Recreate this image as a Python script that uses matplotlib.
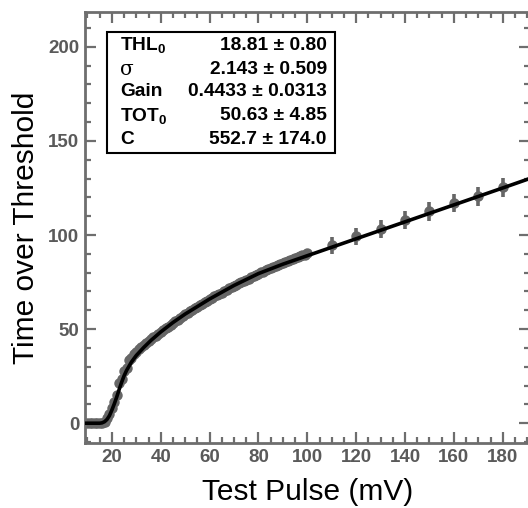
import matplotlib
matplotlib.use("Agg")
import matplotlib.pyplot as plt
from matplotlib.patches import Rectangle
from matplotlib.ticker import MultipleLocator

plt.rcParams['font.family'] = ['Liberation Sans', 'DejaVu Sans']
plt.rcParams['mathtext.fontset'] = 'custom'
plt.rcParams['mathtext.rm'] = 'Liberation Sans'
plt.rcParams['mathtext.bf'] = 'Liberation Sans:bold'

# measured points (test pulse in mV, time over threshold)
pulse = list(range(10, 101)) + [110, 120, 130, 140, 150, 160, 170, 180]
tot = [0.0, 0.0, 0.0, 0.0, 0.0, 0.0, 0.0, 0.8, 2.8, 5.0,
       8.2, 11.5, 15.0, 21.5, 23.5, 27.5, 29.5, 33.5, 34.5, 37.0,
       38.0, 39.5, 40.5, 41.5, 42.5, 43.8, 44.5, 45.6, 46.5, 47.5,
       48.6, 49.5, 50.4, 51.3, 52.2, 53.4, 54.1, 55.0, 56.0, 56.8,
       57.8, 58.6, 59.4, 60.3, 61.1, 61.8, 62.7, 63.5, 64.3, 65.0,
       65.9, 66.5, 67.4, 68.0, 68.8, 69.4, 70.2, 70.9, 71.6, 72.3,
       73.0, 73.6, 74.3, 75.0, 75.6, 76.3, 76.8, 77.5, 78.3, 78.8,
       79.5, 80.1, 80.6, 81.3, 81.8, 82.4, 82.9, 83.5, 84.0, 84.6,
       85.1, 85.5, 86.2, 86.6, 87.1, 87.6, 88.2, 88.6, 89.2, 89.6,
       90.2,
       94.5, 99.3, 103.2, 108.0, 112.5, 117.0, 120.6, 125.4]
tot_err = [0.4] * 7 + [1.0] * 24 + [1.5] * 60 + [4.5, 4.5, 4.6, 4.7, 4.8, 4.9, 5.0, 5.0]

# fitted surrogate curve
fit_x = [9, 12, 15, 16, 17, 18, 19, 20, 21, 22, 23, 24, 25, 26, 28, 30, 33, 36,
         40, 45, 50, 55, 60, 70, 80, 90, 100, 110, 120, 130, 140, 150, 160,
         170, 180, 191]
fit_y = [0.0, 0.0, 0.0, 0.2, 0.8, 2.0, 4.0, 7.0, 10.3, 14.0, 18.0, 21.8, 25.2,
         28.0, 32.5, 36.0, 40.2, 44.0, 48.5, 53.5, 58.0, 62.0, 66.0, 73.2,
         79.5, 84.5, 89.0, 93.5, 98.0, 102.5, 107.0, 111.5, 116.0, 120.5,
         125.0, 130.0]

param_names = [r"$\mathbf{THL_0}$", "σ", "Gain", r"$\mathbf{TOT_0}$", "C"]
param_values = ["18.81 ± 0.80", "2.143 ± 0.509", "0.4433 ± 0.0313",
                "50.63 ± 4.85", "552.7 ± 174.0"]

gray = "#6e6e6e"

fig = plt.figure(figsize=(5.28, 5.08), dpi=100)
ax = fig.add_axes([0.161, 0.128, 0.842, 0.8484])

ax.errorbar(pulse, tot, yerr=tot_err, fmt="o", color="#666666", ms=6.5,
            elinewidth=2.6, capsize=0, zorder=2)
ax.plot(fit_x, fit_y, color="black", lw=2.6, zorder=3)

ax.set_xlim(9, 191)
ax.set_ylim(-10.5, 218.5)
ax.xaxis.set_major_locator(MultipleLocator(20))
ax.xaxis.set_minor_locator(MultipleLocator(5))
ax.yaxis.set_major_locator(MultipleLocator(50))
ax.yaxis.set_minor_locator(MultipleLocator(10))

ax.tick_params(which="both", direction="in", top=True, right=True,
               color=gray, width=1.6, labelcolor="#5a5a5a", labelsize=13.5)
ax.tick_params(which="major", length=8, pad=4)
ax.tick_params(which="minor", length=4.5)
for lab in ax.get_xticklabels() + ax.get_yticklabels():
    lab.set_fontweight("bold")
for sp in ax.spines.values():
    sp.set_color(gray)
    sp.set_linewidth(2.0)

ax.set_xlabel("Test Pulse (mV)", fontsize=21.5, labelpad=9)
ax.set_ylabel("Time over Threshold", fontsize=21.5, labelpad=6)

# parameter box
ax.add_patch(Rectangle((0.0495, 0.673), 0.5125, 0.2806, transform=ax.transAxes,
                       fill=True, facecolor="white", edgecolor="black",
                       lw=1.5, zorder=4))
rows_y = [0.9234, 0.8677, 0.8144, 0.7587, 0.703]
for name, val, yy in zip(param_names, param_values, rows_y):
    if name == "σ":
        ax.text(0.0787, yy, name, transform=ax.transAxes, fontsize=14.5,
                family="DejaVu Serif", va="center", ha="left", zorder=5)
    else:
        ax.text(0.0787, yy, name, transform=ax.transAxes, fontsize=13.8,
                fontweight="bold", va="center", ha="left", zorder=5)
    ax.text(0.544, yy, val, transform=ax.transAxes, fontsize=13.8,
            fontweight="bold", va="center", ha="right", zorder=5)

fig.savefig("out.png", dpi=100)
